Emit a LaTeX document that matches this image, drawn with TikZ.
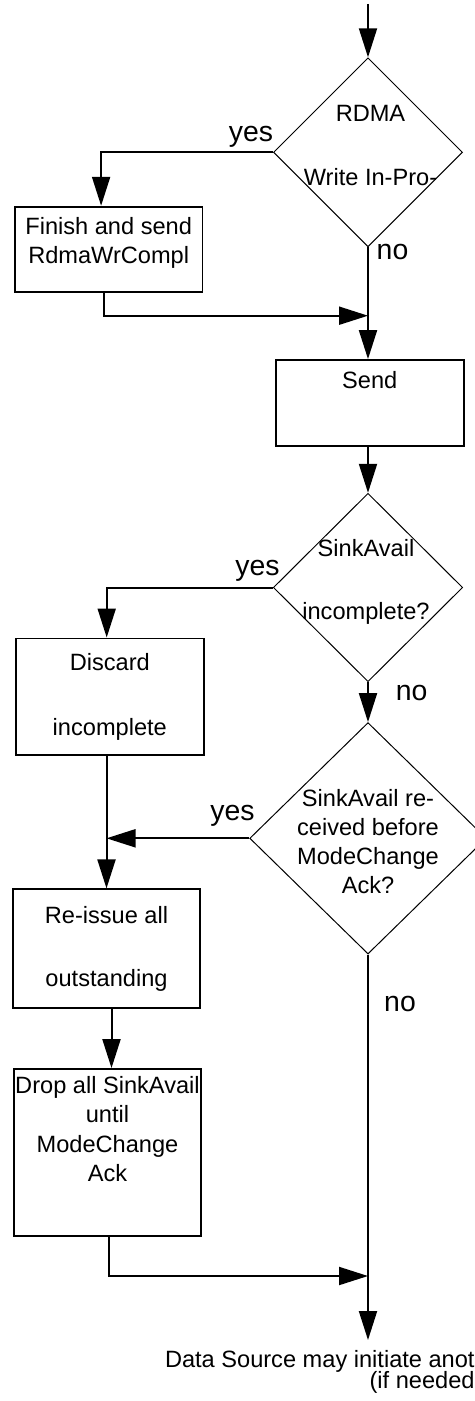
\documentclass[tikz,border=0pt]{standalone}
\usepackage{fontspec}
\setmainfont{Liberation Sans}
\usetikzlibrary{arrows.meta, shapes.geometric, calc}
\tikzset{
  procbox/.style={rectangle, draw, line width=0.9pt, inner sep=0pt},
  decision/.style={diamond, draw, line width=0.5pt, inner sep=0pt},
  boxtext/.style={anchor=north, align=center, inner sep=0pt,
    font=\fontsize{11.8pt}{14.6pt}\selectfont},
  dectext/.style={anchor=center, align=center, inner sep=0pt,
    font=\fontsize{11.8pt}{14.6pt}\selectfont},
  answer/.style={anchor=base, inner sep=0pt, font=\fontsize{14.2pt}{17pt}\selectfont},
  endtext/.style={anchor=north east, align=right, inner sep=0pt,
    font=\fontsize{11.8pt}{14.6pt}\selectfont},
  flow/.style={-{Triangle[length=14.5pt, width=9pt]}, line width=1pt},
}

\begin{document}
\begin{tikzpicture}[x=0.5pt, y=-0.5pt]
        \useasboundingbox (0,0) rectangle (475,1401);
        % decisions on the right column
        \node[decision, minimum width=94.5pt, minimum height=94.5pt,
          label={[dectext, xshift=1.25pt, yshift=3.4pt]center:RDMA\\[17.5pt]Write In-Pro-}] (rdma) at (368,152.3) {};
        \node[decision, minimum width=94.7pt, minimum height=94.2pt,
          label={[dectext, xshift=-1pt, yshift=2.6pt]center:SinkAvail\\[16.9pt]incomplete?}] (sinkinc) at (368,587.5) {};
        \node[decision, minimum width=118.3pt, minimum height=115.7pt,
          label={[dectext, yshift=-1.7pt]center:SinkAvail re-\\ceived before\\ModeChange\\Ack?}] (sinkrcv) at (368,838.3) {};
        % process boxes
        \node[procbox, minimum width=93.7pt, minimum height=42.8pt,
          label={[boxtext, yshift=-5.5pt]north:Finish and send\\RdmaWrCompl}] (fin) at (108.7,249.5) {};
        \node[procbox, minimum width=94.2pt, minimum height=43pt,
          label={[boxtext, yshift=-6pt]north:Send}] (send) at (369.8,403) {};
        \node[procbox, minimum width=94.2pt, minimum height=58.3pt,
          label={[boxtext, yshift=-7.5pt]north:Discard\\[17.9pt]incomplete}] (discard) at (109.8,696.7) {};
        \node[procbox, minimum width=93.8pt, minimum height=59.5pt,
          label={[boxtext, yshift=-9pt]north:Re-issue all\\[16.9pt]outstanding}] (reissue) at (106.5,948.8) {};
        \node[procbox, minimum width=93.8pt, minimum height=83.5pt,
          label={[boxtext, yshift=-4pt]north:Drop all SinkAvail\\until\\ModeChange\\Ack}] (drop) at (107.5,1152.5) {};
        % answers
        \node[answer] (yes1) at (251,141.7) {yes};
        \node[answer] (no1) at (392.5,260) {no};
        \node[answer] (yes2) at (257.5,575) {yes};
        \node[answer] (no2) at (411.7,700) {no};
        \node[answer] (yes3) at (232.5,820.5) {yes};
        \node[answer] (no3) at (400,1011.7) {no};
        \node[endtext] (next) at (475,1349.5) {Data Source may initiate anot\\[-4.1pt]{(if needed}};
        \coordinate (entry) at (368,4);
        \coordinate (join1) at (368,315.7);
        \coordinate (join3) at (368,1276);
        \coordinate (exit) at (368,1340);
        % connectors
        \foreach \a/\b in {entry/rdma.north, sinkinc.south/sinkrcv.north, sinkrcv.south/exit}
          \draw[flow] (\a) -- (\b);
        \draw[flow] (rdma.west) -| ([xshift=-3.8pt]fin.north);
        \draw[flow] (rdma.south) -- (rdma.south |- send.north);
        \draw[flow] ([xshift=-2.2pt]fin.south) |- (join1);
        \draw[flow] (send.south -| sinkinc.north) -- (sinkinc.north);
        \draw[flow] (sinkinc.west) -| ([xshift=-1.55pt]discard.north);
        \draw[flow] (sinkrcv.west) -- (sinkrcv.west -| reissue.north);
        \draw[flow] (reissue.north |- discard.south) -- (reissue.north);
        \draw[flow] ([xshift=2.5pt]reissue.south) -- ([xshift=2.5pt]reissue.south |- drop.north);
        \draw[flow] ([xshift=0.75pt]drop.south) |- (join3);
      \end{tikzpicture}
\end{document}
